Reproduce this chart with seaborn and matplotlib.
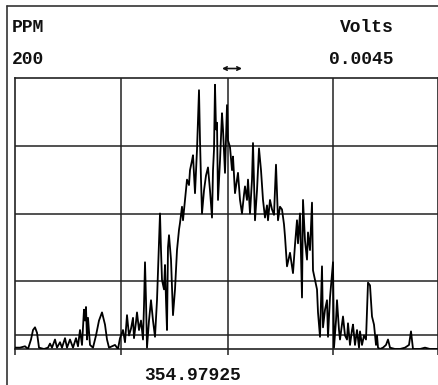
#
# Spectrum trace, PPM scale, with a centre line marker
#
import numpy as np
import pandas as pd
import matplotlib
matplotlib.use("Agg")
import matplotlib.pyplot as plt
from matplotlib.lines import Line2D
import seaborn as sns

# ------------------------------------------------------------- #
# Data (channel offset from left edge, PPM)
# ------------------------------------------------------------- #
chan = [0, 5, 10, 13, 16, 18, 20, 22, 24, 29,
        33, 35, 37, 40, 42, 45, 47, 50, 52, 55,
        58, 61, 63, 65, 67, 69, 70, 71, 72, 73,
        75, 78, 81, 84, 87, 90, 92, 94, 97, 100,
        103, 105, 108, 110, 112, 114, 116, 118, 119, 121,
        122, 124, 126, 128, 129, 130, 131, 132, 134, 136,
        138, 140, 142, 143, 145, 146, 147, 149, 150, 151,
        152, 153, 154, 156, 158, 160, 162, 164, 165, 167,
        168, 170, 172, 174, 175, 177, 178, 180, 182, 184,
        185, 186, 187, 189, 191, 193, 195, 197, 198, 199,
        200, 201, 202, 203, 205, 207, 208, 210, 212, 213,
        215, 217, 218, 220, 222, 223, 225, 227, 229, 230,
        232, 233, 235, 237, 238, 240, 242, 244, 246, 248,
        250, 252, 253, 255, 257, 259, 261, 263, 265, 267,
        269, 270, 272, 275, 278, 280, 282, 283, 285, 287,
        288, 290, 292, 293, 295, 297, 298, 300, 302, 303,
        305, 307, 308, 310, 312, 313, 315, 318, 319, 321,
        322, 324, 325, 327, 328, 330, 332, 333, 335, 337,
        338, 340, 342, 344, 345, 347, 349, 351, 353, 355,
        357, 359, 361, 362, 363, 365, 368, 371, 373, 375,
        380, 385, 390, 394, 396, 398, 405, 410, 415, 422]

ppm = [1, 1, 2, 0, 7, 14, 16, 12, 1, 0,
       1, 4, 1, 7, 1, 5, 1, 8, 1, 7,
       1, 8, 2, 14, 3, 29, 21, 31, 7, 23,
       3, 1, 10, 21, 27, 18, 7, 1, 2, 3,
       0, 8, 14, 5, 25, 10, 15, 23, 8, 20,
       27, 14, 21, 7, 32, 64, 36, 1, 21, 36,
       21, 9, 36, 58, 100, 73, 51, 44, 62, 36,
       14, 75, 84, 66, 25, 44, 73, 88, 93, 105,
       95, 110, 125, 121, 132, 139, 143, 115, 147, 191,
       154, 125, 100, 117, 128, 134, 117, 97, 132, 147,
       195, 162, 167, 110, 139, 174, 162, 130, 180, 154,
       149, 132, 142, 115, 125, 130, 110, 100, 114, 120,
       110, 125, 100, 125, 152, 95, 117, 148, 132, 110,
       97, 106, 95, 110, 103, 99, 136, 95, 105, 103,
       92, 83, 61, 71, 56, 77, 95, 78, 100, 38,
       110, 80, 66, 86, 73, 108, 58, 51, 44, 27,
       9, 61, 16, 29, 36, 9, 38, 64, 1, 21,
       36, 14, 7, 18, 24, 10, 7, 19, 3, 14,
       18, 3, 14, 1, 13, 3, 10, 7, 49, 47,
       24, 18, 3, 10, 1, 0, 1, 3, 7, 1,
       0, 0, 1, 3, 13, 0, 0, 1, 0, 0]

grid_x = [0, 106, 213, 318, 423]
grid_y = [0, 50, 100, 150, 200]
threshold = 10
centre_label = "354.97925"

# ------------------------------------------------------------- #
# Plot
# ------------------------------------------------------------- #
sns.set_style("white")
plt.rcParams['font.family'] = ['Liberation Mono', 'DejaVu Sans Mono']

W, H = 439, 385
fig = plt.figure(figsize=(W / 100, H / 100), dpi=100)
ax = fig.add_axes([15 / W, 1 - 349 / H, 423 / W, 271 / H])

df = pd.DataFrame({'chan': chan, 'ppm': ppm})
sns.lineplot(data=df, x='chan', y='ppm', ax=ax, sort=False,
             color='black', linewidth=1.3, zorder=3)

for gx in grid_x[1:-1]:
    ax.axvline(gx, color='#222222', linewidth=1.1, zorder=2)
for gy in grid_y[1:-1]:
    ax.axhline(gy, color='#222222', linewidth=1.1, zorder=2)
ax.axhline(threshold, color='#222222', linewidth=1.1, zorder=2)

ax.set_xlim(grid_x[0], grid_x[-1])
ax.set_ylim(grid_y[0], grid_y[-1])
ax.set_xticks(grid_x)
ax.set_yticks([])
ax.set_xticklabels([])
ax.set_xlabel('')
ax.set_ylabel('')
ax.tick_params(axis='x', direction='out', length=4, width=1.1,
               color='#222222', bottom=True)
for s in ax.spines.values():
    s.set_color('#222222')
    s.set_linewidth(1.2)

# Texts
tkw = dict(fontsize=13, fontweight='bold', color='#111111', va='center')
fig.text(12 / W, 1 - 28 / H, 'PPM', ha='left', **tkw)
fig.text(12 / W, 1 - 60 / H, '200', ha='left', **tkw)
fig.text(394 / W, 1 - 28 / H, 'Volts', ha='right', **tkw)
fig.text(394 / W, 1 - 60 / H, '0.0045', ha='right', **tkw)
fig.text(193 / W, 1 - 376 / H, centre_label, ha='center', **tkw)

# Marker arrow over the centre line
ax.annotate('', xy=(grid_x[2] - 6, 1.035), xytext=(grid_x[2] + 14, 1.035),
            xycoords=('data', 'axes fraction'),
            textcoords=('data', 'axes fraction'),
            arrowprops=dict(arrowstyle='<->', color='#111111', lw=1.2,
                            mutation_scale=6, shrinkA=0, shrinkB=0),
            annotation_clip=False)

# Outer frame of the scan
fig.add_artist(Line2D([7 / W, 7 / W], [0, 1 - 6 / H], color='#333333',
                      linewidth=1.2, transform=fig.transFigure))
fig.add_artist(Line2D([7 / W, 1.0], [1 - 6 / H, 1 - 6 / H], color='#333333',
                      linewidth=1.2, transform=fig.transFigure))

fig.savefig('out.png', dpi=100)
plt.close(fig)
